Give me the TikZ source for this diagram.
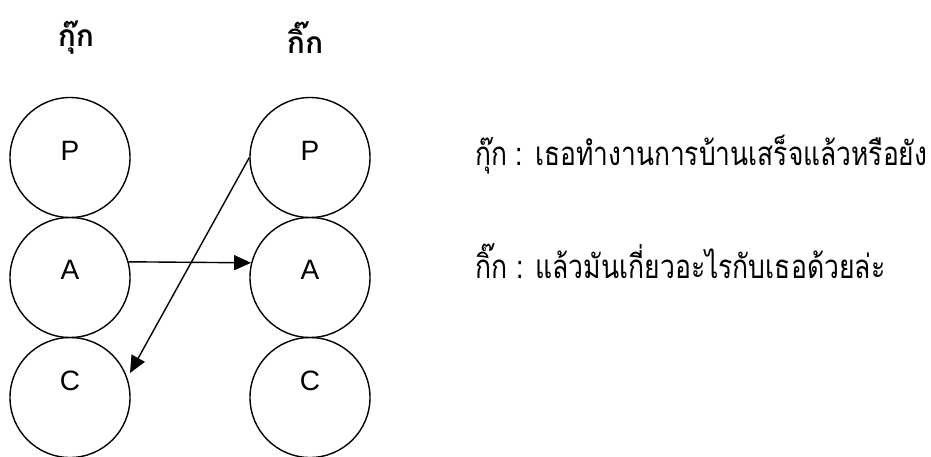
\documentclass[tikz,border=0pt]{standalone}
\usepackage{fontspec}
\setmainfont{Liberation Sans}
\newfontfamily\thaifont[Script=Thai]{Loma}
\usetikzlibrary{arrows.meta}
\begin{document}
\begin{tikzpicture}[x=1pt,y=-1pt,
  circ/.style={draw,circle,line width=1.4pt,minimum size=120pt,inner sep=0pt},
  lbl/.style={font=\fontsize{28}{32}\selectfont,inner sep=0pt},
  ttl/.style={font=\thaifont\bfseries\fontsize{30}{34}\selectfont,inner sep=0pt},
  say/.style={font=\thaifont\fontsize{33}{38}\selectfont,inner sep=0pt,anchor=base west},
  arr/.style={line width=1.4pt,-{Triangle[length=17pt,width=15pt]}}]
\useasboundingbox (0,0) rectangle (931,456);
% titles
\node[ttl] (t1) at (76,38) {กุ๊ก};
\node[ttl] (t2) at (305,38) {กิ๊ก};
% left column
\node[circ] (lP) at (70,157.5) {};
\node[circ] (lA) at (70,277.5) {};
\node[circ] (lC) at (70,397.5) {};
% right column
\node[circ] (rP) at (310,157.5) {};
\node[circ] (rA) at (310,277.5) {};
\node[circ] (rC) at (310,397.5) {};
% letters
\node[lbl] (lPt) at ([yshift=6.5pt]lP.center) {P};
\node[lbl] (lAt) at ([yshift=7.5pt]lA.center) {A};
\node[lbl] (lCt) at ([yshift=17pt]lC.center) {C};
\node[lbl] (rPt) at ([yshift=6.5pt]rP.center) {P};
\node[lbl] (rAt) at ([yshift=7.5pt]rA.center) {A};
\node[lbl] (rCt) at ([yshift=17pt]rC.center) {C};
% arrows
\draw[arr] (lA.15) -- (rA.166);
\coordinate (tip) at (130,373);
\draw[arr] (rP.west) -- (tip);
% dialogue
\node[say] (s1) at (475,165) {\resizebox{452pt}{\height}{กุ๊ก : เธอทำงานการบ้านเสร็จแล้วหรือยัง}};
\node[say] (s2) at (475,278) {\resizebox{410pt}{\height}{กิ๊ก : แล้วมันเกี่ยวอะไรกับเธอด้วยล่ะ}};
\end{tikzpicture}
\end{document}
